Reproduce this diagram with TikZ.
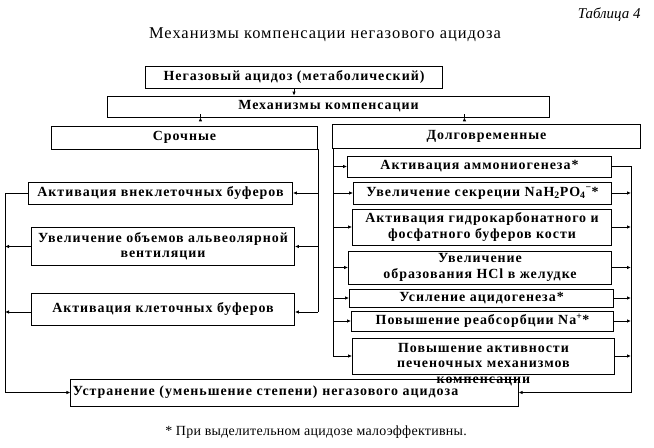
\documentclass[tikz,border=0pt]{standalone}
\usepackage{fontspec}
\setmainfont{Liberation Serif}
\usetikzlibrary{arrows.meta,calc}
\newcommand\bxfont{\fontsize{14}{15.5}\selectfont\bfseries\addfontfeatures{LetterSpace=7}}
\begin{document}
\begin{tikzpicture}[x=1bp,y=-1bp,
  box/.style={draw,line width=0.8bp,inner sep=0pt,align=center,font=\bxfont},
  ln/.style={line width=0.8bp},
  arr/.style={line width=0.8bp,-{Latex[length=4bp,width=3.5bp]}}]
\useasboundingbox (0,0) rectangle (654,448);
% titles
\node[anchor=east,font=\fontsize{15}{17}\selectfont\itshape] (tab) at (644,15) {Таблица 4};
\node[font=\fontsize{16.5}{18}\selectfont\addfontfeatures{LetterSpace=6}] (title) at (325,35) {Механизмы компенсации негазового ацидоза};
% top boxes
\node[box,minimum width=298,minimum height=22] (top) at (294,77) {Негазовый ацидоз (метаболический)};
\node[box,minimum width=443,minimum height=21] (mech) at (328.5,106.5) {Механизмы компенсации};
\node[box,minimum width=267,minimum height=23] (sroch) at (184.5,137.5) {Срочные};
\node[box,minimum width=309,minimum height=24] (dolg) at (486.5,136) {Долговременные};
% left column
\node[box,minimum width=265,minimum height=22] (L1) at (160.5,193) {Активация внеклеточных буферов};
\node[box,minimum width=264,minimum height=38] (L2) at (163,246.5) {Увеличение объемов альвеолярной\\вентиляции};
\node[box,minimum width=264,minimum height=32] (L3) at (163,309) {Активация клеточных буферов};
% right column
\node[box,minimum width=265,minimum height=21] (R1) at (479.5,166.5) {Активация аммониогенеза*};
\node[box,minimum width=259,minimum height=22] (R2) at (482.5,193) {Увеличение секреции NaH\textsubscript{2}PO\textsubscript{4}\textsuperscript{−}*};
\node[box,minimum width=260,minimum height=36] (R3) at (482,227) {Активация гидрокарбонатного и\\фосфатного буферов кости};
\node[box,minimum width=264,minimum height=33] (R4) at (480,267.5) {Увеличение\\образования HCl в желудке};
\node[box,minimum width=265,minimum height=18] (R5) at (481.5,298) {Усиление ацидогенеза*};
\node[box,minimum width=263,minimum height=20] (R6) at (482.5,321) {Повышение реабсорбции Na\textsuperscript{+}*};
\node[box,minimum width=263,minimum height=36] (R7) at (483.5,356) {};
% bottom
\node[box,minimum width=449,minimum height=27,text width=445,align=left] (bot) at (294.5,392.5) {Устранение (уменьшение степени) негазового ацидоза};
\node[font=\bxfont,align=center,inner sep=0pt] (R7t) at ($(R7.center)+(0,8.5)$) {Повышение активности\\печеночных механизмов\\компенсации};
% footnote
\node[font=\fontsize{14}{16}\selectfont\addfontfeatures{LetterSpace=2}] (foot) at (316,432) {* При выделительном ацидозе малоэффективны.};
% bus coordinates
\coordinate (lbus) at (5,0);
\coordinate (rbusL) at (333,0);
\coordinate (rbusR) at (631,0);
% top arrows
\draw[arr] (top.south) -- (top.south |- mech.north);
\draw[arr] ($(mech.south west)+(93,0)$) -- ($(mech.south west)+(93,0)$ |- sroch.north);
\draw[arr] ($(mech.south west)+(357,0)$) -- ($(mech.south west)+(357,0)$ |- dolg.north);
% left bus from Срочные
\draw[ln] (sroch.south east) -- ($(sroch.south east |- L3.east)+(0,3)$);
\draw[arr] (sroch.south east |- L1.east) -- (L1.east);
\draw[arr] (sroch.south east |- L2.east) -- (L2.east);
\draw[arr] ($(sroch.south east |- L3.east)+(0,3)$) -- ($(L3.east)+(0,3)$);
% left output bus
\draw[arr] (L1.west) -| (lbus |- bot.west) -- (bot.west);
\draw[arr] (L2.west) -- (L2.west -| lbus);
\draw[arr] ($(L3.west)+(0,3)$) -- ($(L3.west -| lbus)+(0,3)$);
% right column input bus
\draw[arr] (dolg.south west -| rbusL) |- (R7.west);
\draw[arr] (rbusL |- R1.west) -- (R1.west);
\draw[arr] (rbusL |- R2.west) -- (R2.west);
\draw[arr] (rbusL |- R3.west) -- (R3.west);
\draw[arr] (rbusL |- R4.west) -- (R4.west);
\draw[arr] (rbusL |- R5.west) -- (R5.west);
\draw[arr] (rbusL |- R6.west) -- (R6.west);
% right output bus
\draw[arr] (R1.east) -| (rbusR |- bot.east) -- (bot.east);
\draw[arr] (R2.east) -- (R2.east -| rbusR);
\draw[arr] (R3.east) -- (R3.east -| rbusR);
\draw[arr] (R4.east) -- (R4.east -| rbusR);
\draw[arr] (R5.east) -- (R5.east -| rbusR);
\draw[arr] (R6.east) -- (R6.east -| rbusR);
\draw[arr] (R7.east) -- (R7.east -| rbusR);
\end{tikzpicture}
\end{document}
